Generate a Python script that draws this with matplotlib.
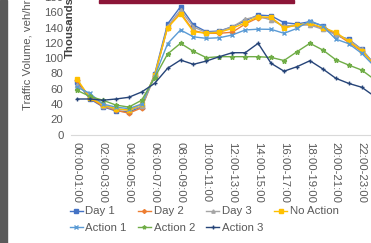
import matplotlib.pyplot as plt
import matplotlib.patches as patches
import numpy as np

plt.rcParams['font.family'] = ['Liberation Sans', 'DejaVu Sans']

hours = ["%02d:00-%02d:00" % (h, h + 1) for h in range(24)]

day1 = [69, 46.6, 36.5, 31, 29.6, 36.5, 79, 144.8, 167.4, 143.5, 134.7, 135.6,
        141.2, 149, 156.5, 155.5, 146.5, 144.8, 147.8, 142.5, 130.4, 124.7, 111.6, 92]
day2 = [71, 48, 37, 32, 28, 35, 77, 140, 159.6, 136, 132.6, 132.6,
        134, 144.8, 153, 153, 140.5, 143, 144.5, 139.5, 132, 120.8, 109, 91]
day3 = [65, 52, 38, 33, 32, 37, 76, 142, 163, 141, 133.5, 135,
        141, 151, 155, 150, 142, 143.5, 143.5, 137.8, 131, 124, 111.6, 92]
no_action = [73, 48, 39, 34, 32, 39.7, 77.6, 140, 158, 134.7, 132.6, 133.9,
             139, 146.5, 154.3, 153.5, 139.5, 143.5, 145.7, 140, 134, 122, 110, 91]
action1 = [62, 54, 40, 36, 34, 40, 76, 119, 137, 128, 126, 126.8,
           130.4, 137, 138, 137.8, 132.6, 139, 149, 142, 125, 119, 106.4, 89]
action2 = [58, 50, 45, 38.7, 36, 45, 74.5, 105.5, 119.5, 109, 100.7, 102,
           102, 102, 102, 101, 97, 108.5, 119.5, 110.7, 98, 91, 84.5, 72]
action3 = [46.6, 46.6, 45, 46.6, 48.8, 55.8, 67, 86.8, 97.6, 92, 96.3, 102,
           107.2, 107.2, 119.5, 93.3, 83, 88.9, 96.7, 85.9, 73.7, 67, 62, 50]

series = [
    ("Day 1", day1, '#4472C4', 's', 3),
    ("Day 2", day2, '#ED7D31', 'D', 2.5),
    ("Day 3", day3, '#A5A5A5', '^', 3),
    ("No Action", no_action, '#FFC000', 's', 3),
    ("Action 1", action1, '#5B9BD5', 'x', 3),
    ("Action 2", action2, '#70AD47', '*', 3.5),
    ("Action 3", action3, '#264478', '+', 3.5),
]

W, H = 371, 243
fig = plt.figure(figsize=(W / 100, H / 100), dpi=100)
ax = fig.add_axes([70.5 / W, (H - 134.6) / H, 310.6 / W, 137.5 / H])

x = np.arange(len(hours))
lines = {}
for name, vals, col, mk, ms in series:
    lines[name], = ax.plot(x, vals, color=col, lw=1, marker=mk, ms=ms, mew=1, label=name)

ax.set_xlim(-0.5, 23.5)
ax.set_ylim(0, 180)
ax.set_yticks(range(0, 181, 20))
ax.set_xticks(x[::2])
ax.set_xticklabels(hours[::2], rotation=-90, va='top', ha='center')
ax.tick_params(length=0, labelsize=8.2, colors='#595959', pad=5)
for s in ['top', 'right', 'left']:
    ax.spines[s].set_visible(False)
ax.spines['bottom'].set_color('#D9D9D9')

fig.text(70 / W, 1 - 28 / H, "Thousands", rotation=90, fontsize=8.2,
         fontweight='bold', color='#404040', ha='center', va='center')
fig.text(28 / W, 1 - 110 / H, "Traffic Volume, veh/hr", rotation=90,
         fontsize=8.2, color='#595959', ha='center', va='bottom')

fig.patches.append(patches.Rectangle((0, 0), 6.5 / W, 1, transform=fig.transFigure,
                                     color='#5A5A5A', zorder=5))
fig.patches.append(patches.Rectangle((99 / W, 1 - 3 / H), 195 / W, 3 / H,
                                     transform=fig.transFigure, color='#8C1538', zorder=5))

# matplotlib fills legend columns first, so interleave to get Excel's row order
order = ["Day 1", "Action 1", "Day 2", "Action 2", "Day 3", "Action 3", "No Action"]
fig.legend([lines[n] for n in order], order,
           loc='upper left', bbox_to_anchor=(70 / W, 1 - 206.5 / H), ncol=4,
           frameon=False, fontsize=8.2, borderpad=0, borderaxespad=0,
           handlelength=1.1, handletextpad=0.25, columnspacing=1.0,
           labelspacing=0.55, labelcolor='#595959', markerscale=0.8)

fig.savefig('out.png', dpi=100)
